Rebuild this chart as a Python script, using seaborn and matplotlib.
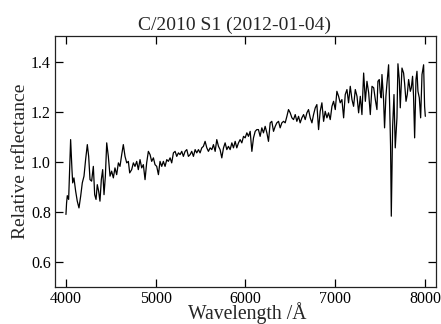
import matplotlib
matplotlib.use("Agg")
import matplotlib.pyplot as plt
import seaborn as sns
import pandas as pd

wavelength = [
    4000, 4007, 4015, 4030, 4052, 4067, 4075, 4089, 4108, 4126, 4145, 4164, 4182, 4201, 4219, 4238,
    4253, 4268, 4286, 4305, 4320, 4335, 4349, 4364, 4379, 4394, 4409, 4424, 4439, 4454, 4472, 4491,
    4509, 4528, 4546, 4565, 4584, 4602, 4621, 4639, 4658, 4677, 4695, 4710, 4732, 4751, 4769, 4788,
    4806, 4825, 4844, 4862, 4881, 4899, 4918, 4937, 4955, 4974, 4992, 5011, 5030, 5048, 5067, 5085,
    5104, 5123, 5141, 5160, 5178, 5197, 5216, 5234, 5253, 5271, 5290, 5308, 5327, 5346, 5364, 5383,
    5401, 5420, 5439, 5457, 5476, 5494, 5513, 5531, 5550, 5569, 5587, 5606, 5625, 5643, 5662, 5680,
    5699, 5717, 5736, 5755, 5773, 5792, 5810, 5829, 5848, 5866, 5885, 5903, 5922, 5940, 5959, 5978,
    5996, 6015, 6033, 6052, 6071, 6089, 6108, 6126, 6144, 6163, 6182, 6200, 6219, 6238, 6256, 6275,
    6293, 6312, 6331, 6349, 6368, 6386, 6405, 6424, 6442, 6461, 6479, 6498, 6517, 6535, 6554, 6572,
    6591, 6609, 6628, 6647, 6665, 6684, 6702, 6721, 6740, 6758, 6777, 6795, 6814, 6832, 6851, 6870,
    6888, 6907, 6925, 6944, 6963, 6981, 7000, 7018, 7037, 7055, 7074, 7093, 7111, 7130, 7148, 7167,
    7186, 7204, 7223, 7242, 7260, 7279, 7297, 7316, 7335, 7353, 7372, 7390, 7409, 7428, 7446, 7464,
    7475, 7490, 7501, 7512, 7520, 7538, 7549, 7564, 7576, 7594, 7605, 7616, 7624, 7639, 7654, 7668,
    7687, 7698, 7713, 7724, 7743, 7761, 7772, 7788, 7802, 7817, 7836, 7847, 7861, 7872, 7884, 7899,
    7910, 7921, 7936, 7951, 7966, 7984, 7995, 8003,
]
reflectance = [
    0.790, 0.836, 0.865, 0.850, 1.089, 0.969, 0.916, 0.936, 0.883, 0.843, 0.816, 0.863, 0.916, 0.943, 1.009, 1.069,
    1.022, 0.929, 0.923, 0.982, 0.869, 0.850, 0.909, 0.883, 0.843, 0.929, 0.969, 0.869, 0.943, 1.076, 1.022, 0.943,
    0.963, 0.936, 0.976, 0.949, 0.996, 0.982, 1.029, 1.069, 1.022, 0.996, 1.002, 0.956, 0.969, 0.996, 0.982, 1.002,
    0.969, 1.009, 0.976, 0.989, 0.929, 0.996, 1.042, 1.029, 1.002, 1.016, 0.989, 0.982, 0.949, 1.002, 0.982, 1.002,
    0.982, 1.009, 1.002, 1.016, 0.996, 1.036, 1.042, 1.022, 1.036, 1.029, 1.042, 1.022, 1.042, 1.049, 1.022, 1.029,
    1.042, 1.022, 1.049, 1.036, 1.049, 1.036, 1.056, 1.062, 1.082, 1.056, 1.042, 1.056, 1.049, 1.069, 1.042, 1.089,
    1.062, 1.049, 1.016, 1.056, 1.076, 1.049, 1.062, 1.049, 1.076, 1.056, 1.082, 1.056, 1.076, 1.089, 1.076, 1.102,
    1.096, 1.116, 1.102, 1.122, 1.042, 1.096, 1.122, 1.129, 1.129, 1.102, 1.136, 1.116, 1.142, 1.116, 1.082, 1.156,
    1.162, 1.122, 1.142, 1.156, 1.162, 1.136, 1.156, 1.162, 1.156, 1.182, 1.209, 1.196, 1.176, 1.169, 1.189, 1.162,
    1.182, 1.156, 1.176, 1.189, 1.169, 1.196, 1.209, 1.176, 1.156, 1.189, 1.216, 1.229, 1.129, 1.202, 1.236, 1.162,
    1.202, 1.176, 1.196, 1.169, 1.222, 1.242, 1.209, 1.282, 1.262, 1.236, 1.249, 1.176, 1.269, 1.289, 1.236, 1.302,
    1.249, 1.222, 1.289, 1.262, 1.196, 1.262, 1.189, 1.355, 1.242, 1.322, 1.276, 1.189, 1.302, 1.296, 1.249, 1.209,
    1.322, 1.329, 1.276, 1.256, 1.349, 1.249, 1.136, 1.262, 1.315, 1.388, 1.236, 1.062, 0.783, 1.142, 1.269, 1.056,
    1.176, 1.392, 1.329, 1.216, 1.375, 1.355, 1.315, 1.242, 1.269, 1.329, 1.282, 1.296, 1.342, 1.262, 1.096, 1.329,
    1.362, 1.282, 1.256, 1.176, 1.349, 1.388, 1.222, 1.182,
]
x_ticks = [4000, 5000, 6000, 7000, 8000]
y_ticks = [0.6, 0.8, 1.0, 1.2, 1.4]
title = "C/2010 S1 (2012-01-04)"
x_label = "Wavelength /Å"
y_label = "Relative reflectance"

sns.set_theme(style="ticks")
plt.rcParams["font.family"] = ["Liberation Serif", "DejaVu Serif"]

df = pd.DataFrame({"wavelength": wavelength, "reflectance": reflectance})

fig = plt.figure(figsize=(4.41, 3.24), dpi=100)
ax = fig.add_axes([55 / 441, 1 - 287 / 324, 381 / 441, 251 / 324])
sns.lineplot(data=df, x="wavelength", y="reflectance", ax=ax, color="black",
             linewidth=0.9, estimator=None, sort=False)

ax.set_xlim(3878, 8122)
ax.set_ylim(0.5, 1.503)
ax.set_xticks(x_ticks)
ax.set_xticklabels([str(v) for v in x_ticks])
ax.set_yticks(y_ticks)
ax.set_yticklabels([f"{v:.1f}" for v in y_ticks])
ax.tick_params(direction="in", top=True, right=True, length=5.5, width=0.9,
               labelsize=11.5, colors="black", pad=3)
for s in ax.spines.values():
    s.set_color("#222222")
    s.set_linewidth(0.9)

ax.set_title(title, fontsize=14, pad=4.5, x=0.472)
ax.set_xlabel(x_label, fontsize=14.2)
ax.set_ylabel(y_label, fontsize=14)
ax.xaxis.set_label_coords(0.505, -0.059)
ax.yaxis.set_label_coords(-0.068, 0.5)

fig.savefig("out.png", dpi=100)
